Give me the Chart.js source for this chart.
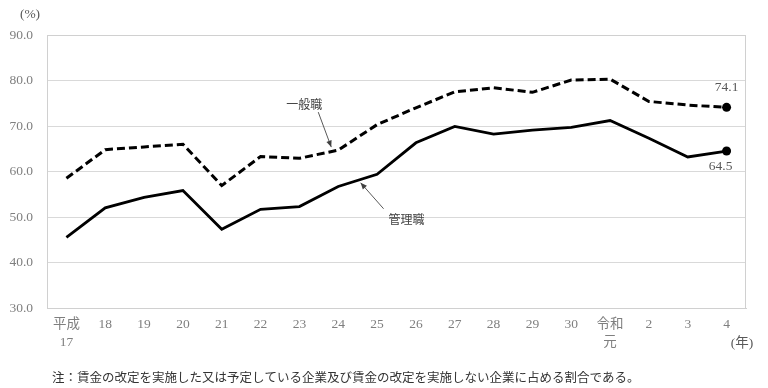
<!DOCTYPE html>
<html>
<head>
<meta charset="utf-8">
<script src="https://cdn.jsdelivr.net/npm/chart.js@4"></script>
<style>
  html, body { margin: 0; padding: 0; background: #fff; }
  #wrap { width: 768px; height: 388px; position: relative; }
</style>
</head>
<body>
<div id="wrap"><canvas id="wageChart"></canvas></div>
<script>
const years = [['平成', '17'], '18', '19', '20', '21', '22', '23', '24', '25', '26', '27', '28', '29', '30', ['令和', '元'], '2', '3', '4'];
const ippanshoku = [58.5, 64.8, 65.4, 66.0, 56.9, 63.3, 62.9, 64.7, 70.3, 74.0, 77.5, 78.4, 77.4, 80.1, 80.3, 75.4, 74.6, 74.1];
const kanrishoku = [45.5, 52.0, 54.3, 55.8, 47.3, 51.7, 52.3, 56.7, 59.4, 66.3, 69.9, 68.2, 69.1, 69.7, 71.2, 67.3, 63.2, 64.5];
const yTicks = [30, 40, 50, 60, 70, 80, 90];

const numFont = "'Liberation Serif', 'Noto Sans CJK JP', serif";
const jpFont = "'Noto Sans CJK JP', sans-serif";
const last = years.length - 1;

// only the last point gets a marker
const lastOnly = arr => arr.map((_, i) => i === last ? 4.5 : 0);

function arrow(ctx, x1, y1, x2, y2) {
  const ang = Math.atan2(y2 - y1, x2 - x1);
  ctx.beginPath();
  ctx.moveTo(x1, y1);
  ctx.lineTo(x2, y2);
  ctx.stroke();
  ctx.beginPath();
  ctx.moveTo(x2, y2);
  ctx.lineTo(x2 - 7 * Math.cos(ang - 0.4), y2 - 7 * Math.sin(ang - 0.4));
  ctx.lineTo(x2 - 7 * Math.cos(ang + 0.4), y2 - 7 * Math.sin(ang + 0.4));
  ctx.closePath();
  ctx.fill();
}

const extras = {
  id: 'extras',
  afterDraw(chart) {
    const ctx = chart.ctx;
    const area = chart.chartArea;
    const x = chart.scales.x;
    const y = chart.scales.y;
    ctx.save();

    // frame round the plot
    ctx.strokeStyle = '#d0d0d0';
    ctx.lineWidth = 1;
    ctx.strokeRect(area.left + 0.5, area.top + 0.5, area.right - area.left - 1, area.bottom - area.top);

    // series labels with arrows
    ctx.fillStyle = '#404040';
    ctx.strokeStyle = '#595959';
    ctx.font = '12px ' + jpFont;
    ctx.textAlign = 'center';
    ctx.textBaseline = 'middle';

    const ax = x.getPixelForValue(7), ay = y.getPixelForValue(ippanshoku[7]);
    ctx.fillText('一般職', ax - 34, ay - 46);
    arrow(ctx, ax - 20, ay - 38, ax - 7, ay - 3);

    const bx = x.getPixelForValue(7) * 0.45 + x.getPixelForValue(8) * 0.55;
    const by = y.getPixelForValue(kanrishoku[7]) * 0.45 + y.getPixelForValue(kanrishoku[8]) * 0.55;
    ctx.fillText('管理職', bx + 47, by + 40);
    arrow(ctx, bx + 24, by + 29, bx + 1, by + 3);

    // end values
    ctx.fillStyle = '#595959';
    ctx.font = '13.5px ' + numFont;
    const lx = x.getPixelForValue(last);
    ctx.fillText(ippanshoku[last].toFixed(1), lx, y.getPixelForValue(ippanshoku[last]) - 20);
    ctx.fillText(kanrishoku[last].toFixed(1), lx - 6, y.getPixelForValue(kanrishoku[last]) + 15);

    // units and note
    ctx.font = '13.5px ' + numFont;
    ctx.fillText('(%)', 30, 14);
    ctx.fillText('(年)', 742, 343);
    ctx.textAlign = 'left';
    ctx.fillStyle = '#333';
    ctx.font = '12.5px ' + jpFont;
    ctx.fillText('注：賃金の改定を実施した又は予定している企業及び賃金の改定を実施しない企業に占める割合である。', 52, 377);
    ctx.restore();
  }
};

new Chart(document.getElementById('wageChart'), {
  type: 'line',
  data: {
    labels: years,
    datasets: [
      {
        label: '一般職',
        data: ippanshoku,
        borderColor: '#000',
        backgroundColor: '#000',
        borderWidth: 3,
        borderDash: [8, 4],
        pointRadius: lastOnly(ippanshoku),
        pointBackgroundColor: '#000',
        pointBorderWidth: 0,
        tension: 0
      },
      {
        label: '管理職',
        data: kanrishoku,
        borderColor: '#000',
        backgroundColor: '#000',
        borderWidth: 2.8,
        pointRadius: lastOnly(kanrishoku),
        pointBackgroundColor: '#000',
        pointBorderWidth: 0,
        tension: 0
      }
    ]
  },
  options: {
    responsive: true,
    maintainAspectRatio: false,
    animation: false,
    layout: { padding: { left: 0, right: 22, top: 35, bottom: 0 } },
    plugins: {
      legend: { display: false },
      tooltip: { enabled: false }
    },
    scales: {
      x: {
        offset: true,
        grid: { display: false, drawTicks: false },
        border: { display: true, color: '#d0d0d0' },
        ticks: {
          color: '#7f7f7f',
          font: { family: numFont, size: 13.5, lineHeight: 1.3 },
          padding: 8,
          maxRotation: 0,
          autoSkip: false
        },
        afterFit: s => { s.height = 80; }
      },
      y: {
        min: 30,
        max: 90,
        afterBuildTicks: s => { s.ticks = yTicks.map(v => ({ value: v })); },
        grid: { color: '#d9d9d9', drawTicks: false },
        border: { display: true, color: '#d0d0d0' },
        ticks: {
          color: '#7f7f7f',
          font: { family: numFont, size: 13.5 },
          padding: 14,
          callback: v => v.toFixed(1)
        },
        afterFit: s => { s.width = 47; }
      }
    }
  },
  plugins: [extras]
});
</script>
</body>
</html>
